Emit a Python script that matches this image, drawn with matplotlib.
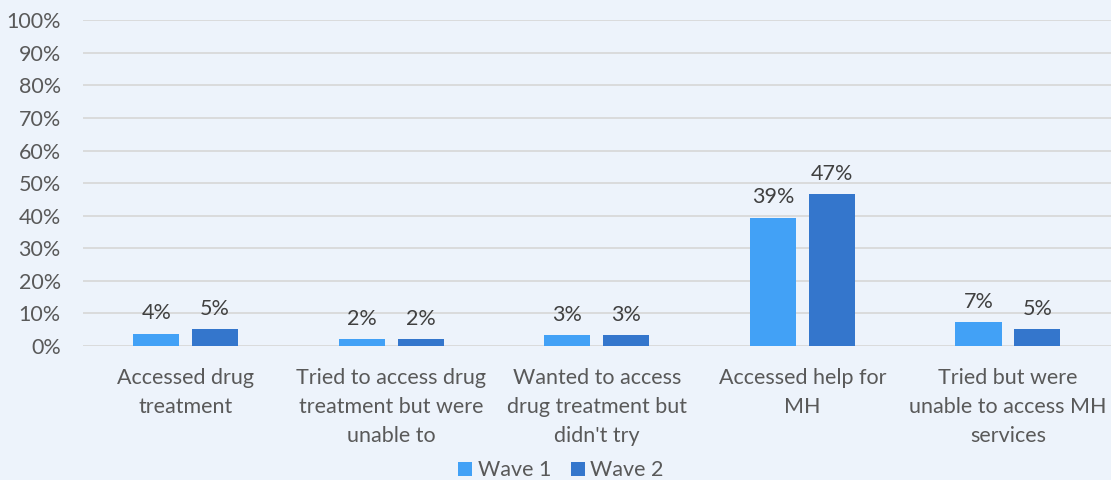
import matplotlib.pyplot as plt
import numpy as np

categories = ["Accessed drug\ntreatment",
              "Tried to access drug\ntreatment but were\nunable to",
              "Wanted to access\ndrug treatment but\ndidn't try",
              "Accessed help for\nMH",
              "Tried but were\nunable to access MH\nservices"]
wave1 = [3.8, 2.1, 3.4, 39.4, 7.3]
wave2 = [5.2, 2.1, 3.4, 46.6, 5.2]
labels1 = ["4%", "2%", "3%", "39%", "7%"]
labels2 = ["5%", "2%", "3%", "47%", "5%"]

bg = "#EDF3FB"
txt = "#595959"
c1 = "#42A1F6"
c2 = "#3476CC"

plt.rcParams['font.family'] = ['Lato', 'DejaVu Sans']
fs = 15.5

fig = plt.figure(figsize=(11.11, 4.8), dpi=100, facecolor=bg)
ax = fig.add_axes([0.0747, 0.279, 0.925, 0.679], facecolor=bg)

x = np.arange(len(categories))
w = 0.224
b1 = ax.bar(x - 0.143, wave1, w, color=c1, label="Wave 1", zorder=3)
b2 = ax.bar(x + 0.143, wave2, w, color=c2, label="Wave 2", zorder=3)

for bars, labs in ((b1, labels1), (b2, labels2)):
    for r, lab in zip(bars, labs):
        ax.text(r.get_x() + r.get_width() / 2, r.get_height() + 3.2, lab,
                ha="center", va="bottom", fontsize=fs, color="#404040")

ax.set_ylim(0, 100)
ax.set_xlim(-0.5, len(categories) - 0.5)
ax.set_yticks(range(0, 101, 10))
ax.set_yticklabels([f"{v}%" for v in range(0, 101, 10)])
ax.set_xticks(x)
ax.set_xticklabels(categories, linespacing=1.55)
ax.tick_params(axis="both", length=0, labelsize=fs, colors=txt)
ax.tick_params(axis="x", pad=16)
ax.tick_params(axis="y", pad=16)
ax.grid(axis="y", color="#D9D9D9", linewidth=1.3, zorder=0)
for s in ax.spines.values():
    s.set_visible(False)

ax.legend(loc="lower center", bbox_to_anchor=(0.465, -0.445), ncol=2, frameon=False,
          fontsize=fs, labelcolor=txt, handlelength=0.65, handleheight=0.65,
          handletextpad=0.25, columnspacing=0.9, borderpad=0)

fig.savefig("out.png", dpi=100, facecolor=bg)
